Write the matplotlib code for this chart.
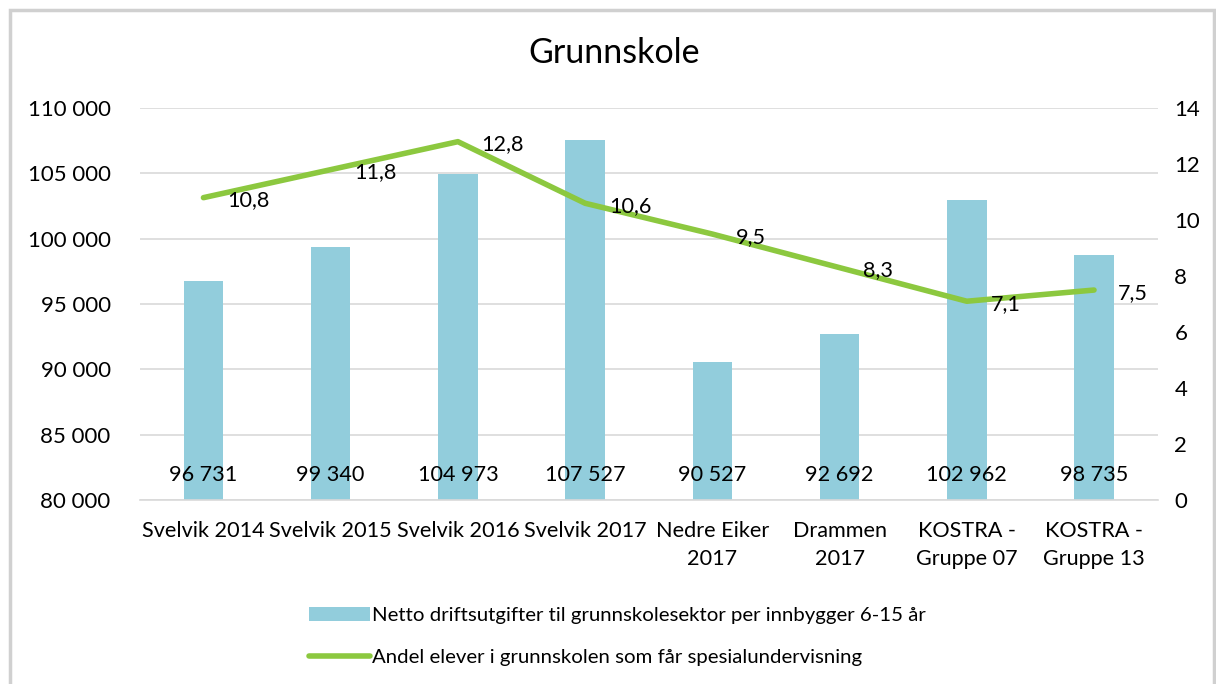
import matplotlib
matplotlib.use("Agg")
import matplotlib.pyplot as plt
from matplotlib.patches import Rectangle

plt.rcParams['font.family'] = ['Lato', 'DejaVu Sans']

categories = ["Svelvik 2014", "Svelvik 2015", "Svelvik 2016", "Svelvik 2017",
              "Nedre Eiker\n2017", "Drammen\n2017", "KOSTRA -\nGruppe 07", "KOSTRA -\nGruppe 13"]
bar_values = [96731, 99340, 104973, 107527, 90527, 92692, 102962, 98735]
line_values = [10.8, 11.8, 12.8, 10.6, 9.5, 8.3, 7.1, 7.5]
bar_label = "Netto driftsutgifter til grunnskolesektor per innbygger 6-15 år"
line_label = "Andel elever i grunnskolen som får spesialundervisning"
left_ticks = [80000, 85000, 90000, 95000, 100000, 105000, 110000]
right_ticks = [0, 2, 4, 6, 8, 10, 12, 14]

def fmt_int(v):
    return f"{v:,}".replace(",", " ")

def fmt_dec(v):
    return f"{v:.1f}".replace(".", ",")

bar_color = "#92CDDC"
line_color = "#8CC83F"

fig = plt.figure(figsize=(12.16, 6.84), dpi=100)
fig.patches.append(Rectangle((0.008, -0.01), 0.99, 0.996, transform=fig.transFigure,
                             fill=False, edgecolor="#D0D0D0", linewidth=2.5))

ax = fig.add_axes([0.115, 0.269, 0.837, 0.573])
x = list(range(len(categories)))
bars = ax.bar(x, bar_values, width=0.31, color=bar_color, label=bar_label, zorder=2)
ax.set_ylim(80000, 110000)
ax.set_xlim(-0.5, len(categories) - 0.5)
ax.set_yticks(left_ticks)
ax.set_yticklabels([fmt_int(t) for t in left_ticks])
ax.set_xticks(x)
ax.set_xticklabels(categories, fontsize=15.6, linespacing=1.5)
ax.tick_params(axis='y', labelsize=16, length=0, pad=21)
ax.tick_params(axis='x', length=0, pad=15)
ax.grid(axis='y', color="#D9D9D9", linewidth=1.2, zorder=0)
ax.set_axisbelow(True)
for s in ['top', 'right', 'left']:
    ax.spines[s].set_visible(False)
ax.spines['bottom'].set_color("#D9D9D9")
ax.spines['bottom'].set_linewidth(1.2)

for xi, v in zip(x, bar_values):
    ax.annotate(fmt_int(v), xy=(xi, 80000), xytext=(0, 18), textcoords='offset points',
                ha='center', va='center', fontsize=15.6, color='black', zorder=5)

ax2 = ax.twinx()
ax2.set_ylim(0, 14)
ax2.set_yticks(right_ticks)
ax2.tick_params(axis='y', labelsize=16, length=0, pad=12)
for s in ax2.spines.values():
    s.set_visible(False)
line, = ax2.plot(x, line_values, color=line_color, linewidth=4, label=line_label,
                 solid_capstyle='round', zorder=4)
for xi, v in zip(x, line_values):
    ax2.annotate(fmt_dec(v), xy=(xi, v), xytext=(17, -2), textcoords='offset points',
                 ha='left', va='center', fontsize=15.6, color='black', zorder=6)

fig.text(0.505, 0.922, "Grunnskole", ha='center', va='center', fontsize=24.5)

fig.legend(handles=[bars, line], labels=[bar_label, line_label], loc='upper center',
           bbox_to_anchor=(0.508, 0.14), ncol=1, frameon=False, fontsize=14.7,
           handlelength=3.0, handleheight=0.7, handletextpad=0.1, labelspacing=1.2,
           alignment='left')

fig.savefig("out.png", dpi=100)
